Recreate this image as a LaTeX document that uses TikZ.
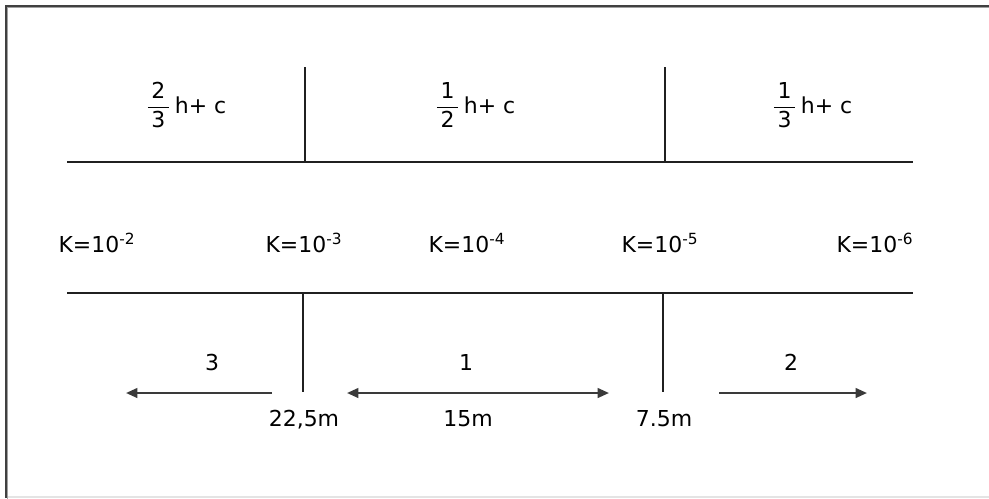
\documentclass[tikz,border=0pt]{standalone}
\usepackage{amsmath}
\usepackage{fontspec}
\setmainfont{DejaVu Sans}
\usetikzlibrary{arrows.meta}
\definecolor{frameedge}{HTML}{404040}
\definecolor{frameshade}{HTML}{A0A0A0}
\definecolor{framebase}{HTML}{E4E4E4}
\definecolor{zoneline}{HTML}{202020}
\definecolor{flowline}{HTML}{3A3A3A}
\tikzset{
  framedark/.style={draw=frameedge, line width=0.04cm},
  framesoft/.style={draw=frameshade, line width=0.02cm},
  framelow/.style={draw=framebase, line width=0.03cm},
  zoneedge/.style={draw=zoneline, line width=0.034cm},
  flowarrow/.style={-{Triangle[length=6.5pt,width=5.5pt]}, line width=0.045cm, draw=flowline},
  flowboth/.style={flowarrow, {Triangle[length=6.5pt,width=5.5pt]}-{Triangle[length=6.5pt,width=5.5pt]}},
  celltext/.style={inner sep=0pt, anchor=base, text=black, font=\fontsize{12.5}{15}\selectfont}
}

\begin{document}
\begin{tikzpicture}[x=0.02cm, y=-0.02cm]
  \useasboundingbox (0,0) rectangle (989,498);
  % frame
  \coordinate (fsw) at (6,498);
  \coordinate (fnw) at (6,6);
  \coordinate (fne) at (989,6);
  \coordinate (fse) at (989,497);
  \draw[framedark] (fsw) -- (fnw) -- (fne);
  \draw[framesoft] ([xshift=0.03cm,yshift=-0.03cm]fsw) -- ([xshift=0.03cm,yshift=-0.03cm]fnw) -- ([yshift=-0.03cm]fne);
  \draw[framelow] ([xshift=0.05cm]fsw |- fse) -- (fse);
  % zone boundaries
  \coordinate (upL) at (67,162);
  \coordinate (upR) at (913,162);
  \coordinate (loL) at (67,293);
  \coordinate (loR) at (913,293);
  \draw[zoneedge] (upL) -- (upR);
  \draw[zoneedge] (loL) -- (loR);
  \coordinate (cutAt) at (305,67);
  \coordinate (cutAb) at (305,162);
  \coordinate (cutBt) at (665,67);
  \coordinate (cutBb) at (665,162);
  \coordinate (markAt) at (303,293);
  \coordinate (markAb) at (303,392);
  \coordinate (markBt) at (663,293);
  \coordinate (markBb) at (663,392);
  \draw[zoneedge] (cutAt) -- (cutAb);
  \draw[zoneedge] (cutBt) -- (cutBb);
  \draw[zoneedge] (markAt) -- (markAb);
  \draw[zoneedge] (markBt) -- (markBb);
  % heads
  \node[celltext] (headA) at (186,113) {$\dfrac{\text{\,2\,}}{\text{\,3\,}}$\,h+ c};
  \node[celltext] (headB) at (475,113) {$\dfrac{\text{\,1\,}}{\text{\,2\,}}$\,h+ c};
  \node[celltext] (headC) at (812,113) {$\dfrac{\text{\,1\,}}{\text{\,3\,}}$\,h+ c};
  % permeabilities
  \node[celltext] (kA) at (97,252) {K=10\textsuperscript{-2}};
  \node[celltext] (kB) at (304,252) {K=10\textsuperscript{-3}};
  \node[celltext] (kC) at (467,252) {K=10\textsuperscript{-4}};
  \node[celltext] (kD) at (660,252) {K=10\textsuperscript{-5}};
  \node[celltext] (kE) at (875,252) {K=10\textsuperscript{-6}};
  % flow directions
  \coordinate (flowCs) at (272,393);
  \coordinate (flowCe) at (126,393);
  \coordinate (flowAl) at (347,393);
  \coordinate (flowAr) at (609,393);
  \coordinate (flowBs) at (719,393);
  \coordinate (flowBe) at (867,393);
  \draw[flowarrow] (flowCs) -- (flowCe);
  \draw[flowboth] (flowAl) -- (flowAr);
  \draw[flowarrow] (flowBs) -- (flowBe);
  \node[celltext] (numC) at (212,370) {3};
  \node[celltext] (numA) at (466,370) {1};
  \node[celltext] (numB) at (791,370) {2};
  % distances
  \node[celltext] (distA) at (304,426) {22,5m};
  \node[celltext] (distB) at (468,426) {15m};
  \node[celltext] (distC) at (664,426) {7.5m};
\end{tikzpicture}
\end{document}
